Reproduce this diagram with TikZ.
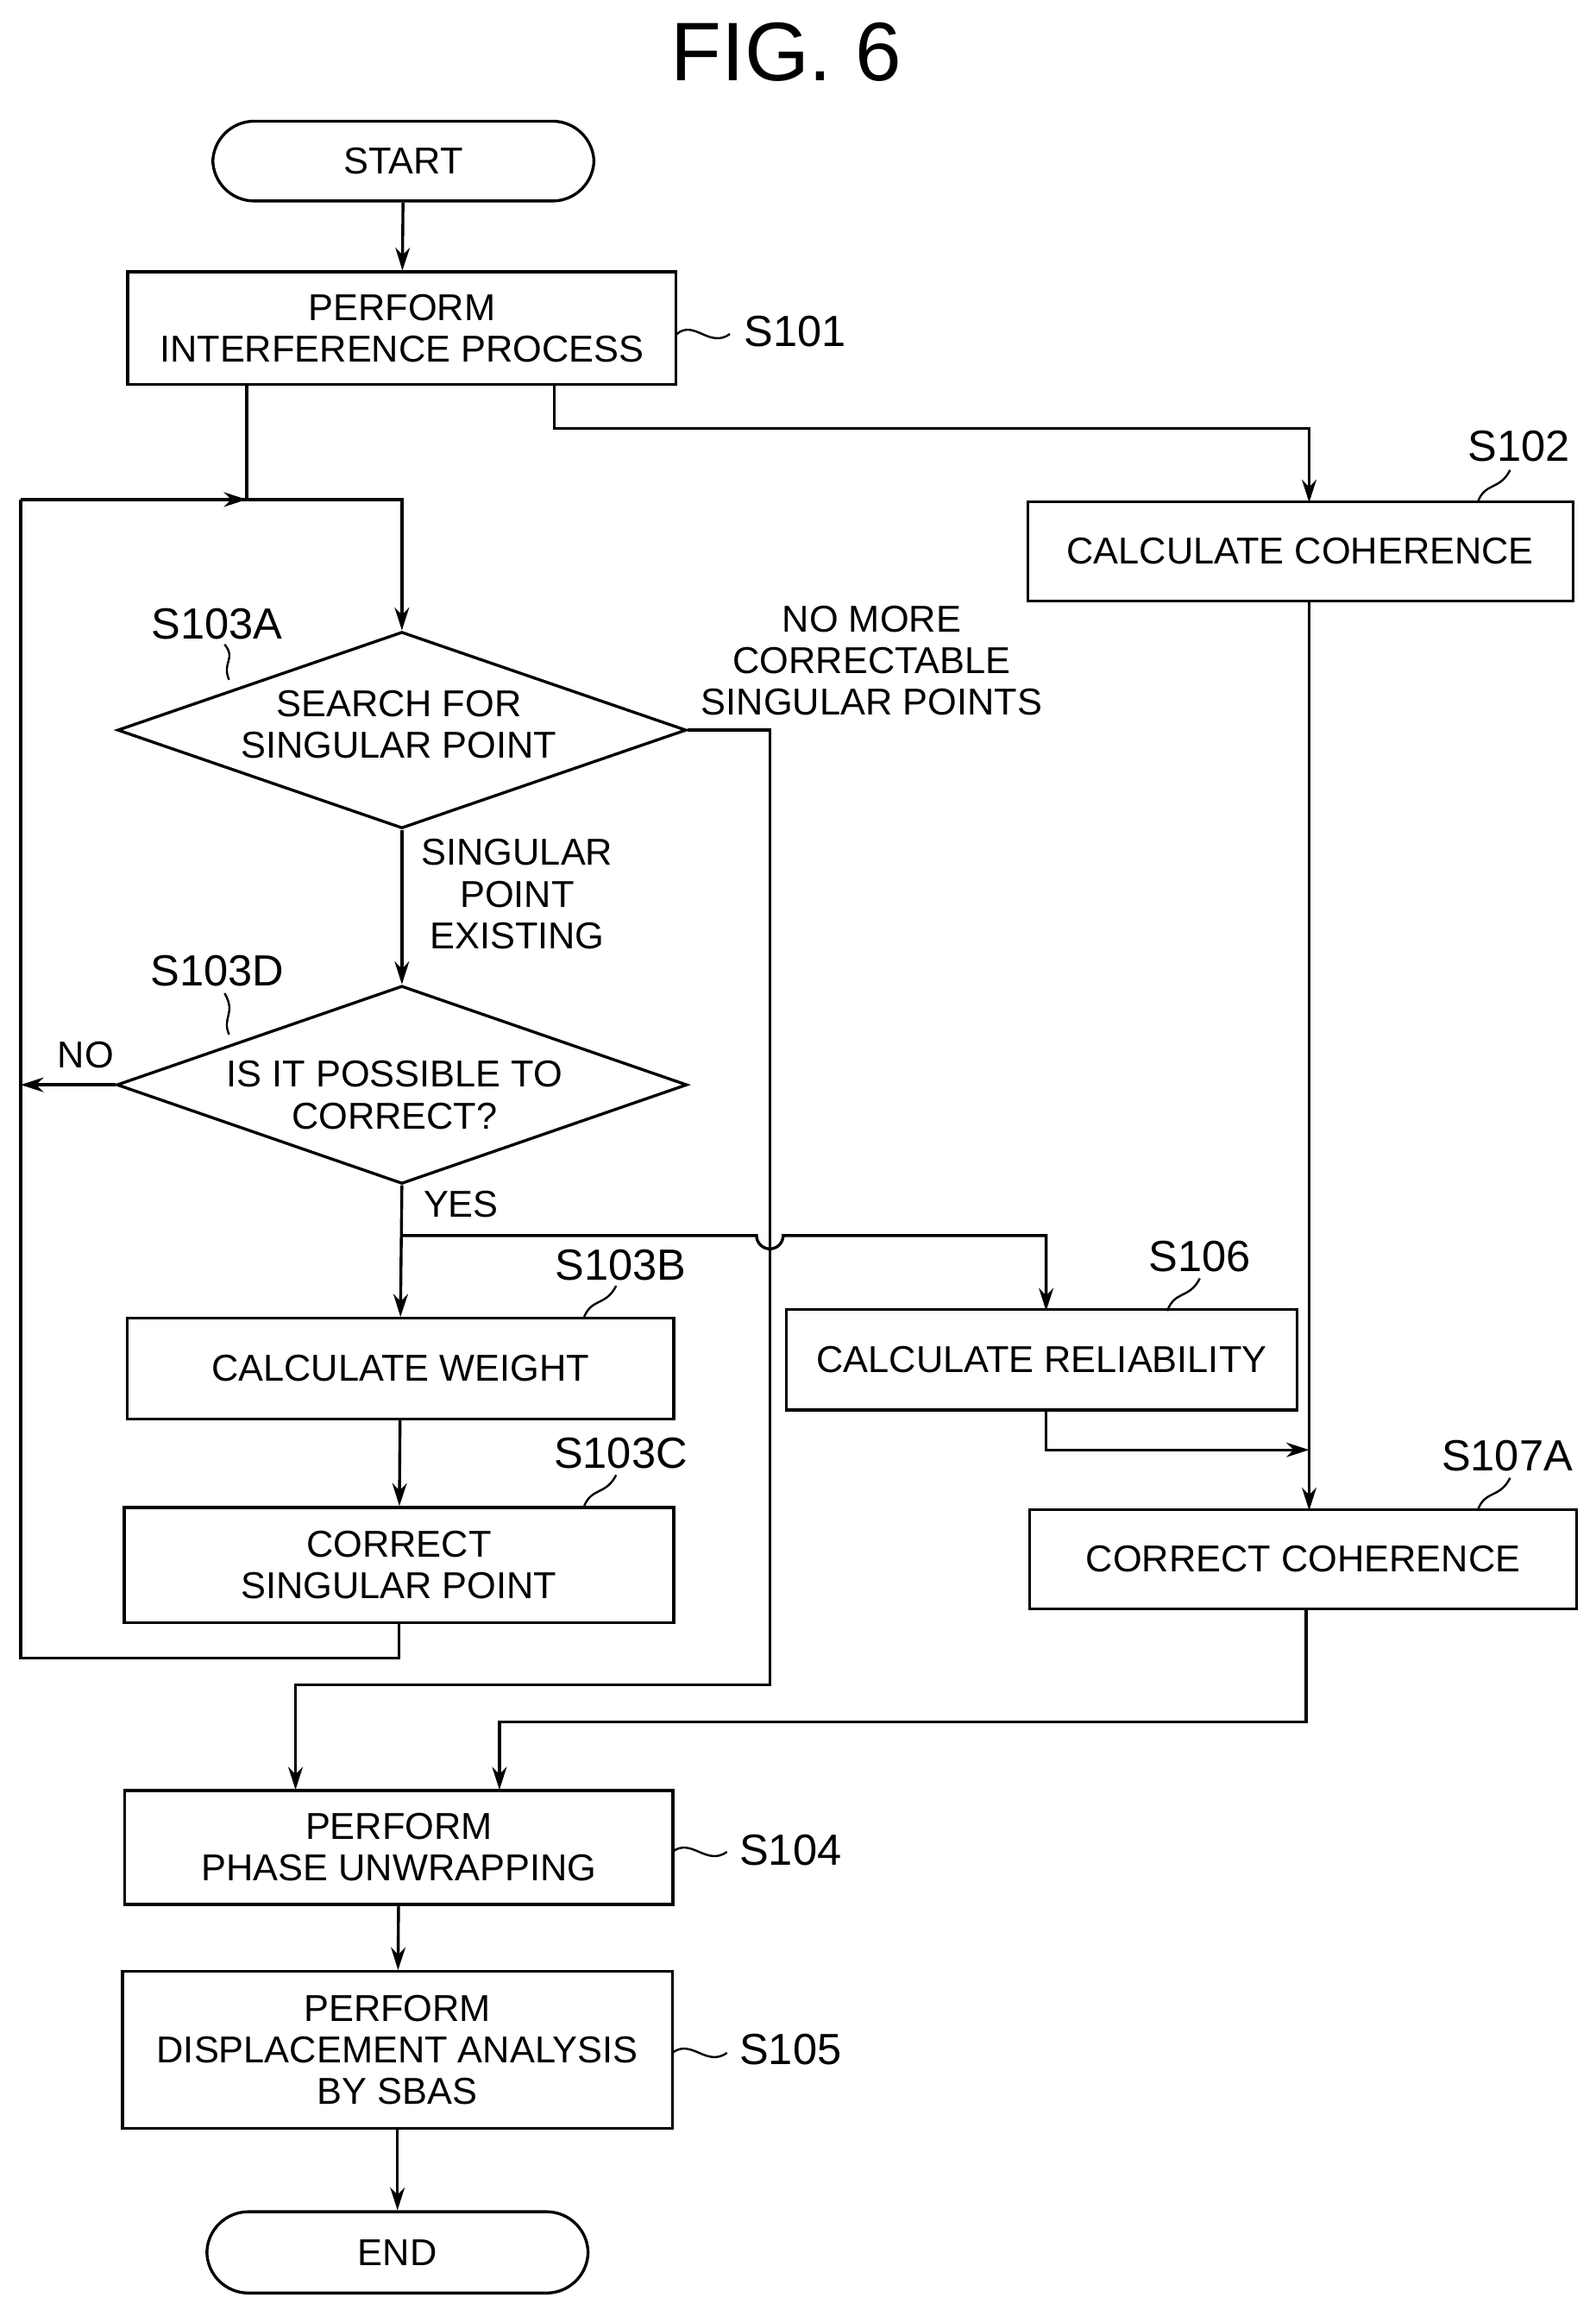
\documentclass[tikz,border=0pt]{standalone}
\usepackage{fontspec}
\setmainfont{Liberation Sans}
\usetikzlibrary{arrows.meta,shapes.geometric}
\begin{document}
\begin{tikzpicture}[x=0.025cm,y=-0.025cm,line width=1.4pt,
  box/.style={draw,rectangle,inner sep=0pt,align=center,font=\fontsize{18}{20}\selectfont},
  dia/.style={draw,diamond,inner sep=0pt,align=center,font=\fontsize{18}{20}\selectfont},
  lab/.style={font=\fontsize{21}{22}\selectfont},
  txt/.style={align=center,font=\fontsize{18}{20}\selectfont},
  arr/.style={-{Stealth[length=11pt,width=7pt]}}]
\useasboundingbox (0,0) rectangle (1080,1563);
\node[font=\fontsize{40}{44}\selectfont] (title) at (532,35) {FIG. 6};
\node[box,rounded corners=20pt,minimum width=258*0.025cm,minimum height=54*0.025cm] (start) at (273,109) {START};
\node[box,minimum width=371*0.025cm,minimum height=76*0.025cm] (s101) at (272,222) {PERFORM\\INTERFERENCE PROCESS};
\node[box,minimum width=369*0.025cm,minimum height=67*0.025cm] (s102) at (880,373) {CALCULATE COHERENCE};
\node[dia,minimum width=385*0.025cm,minimum height=133*0.025cm] (a) at (272,494) {};
\node[txt] at (270,490) {SEARCH FOR\\SINGULAR POINT};
\node[dia,minimum width=386*0.025cm,minimum height=134*0.025cm] (d) at (272,734) {};
\node[txt] at (267,741) {IS IT POSSIBLE TO\\CORRECT?};
\node[box,minimum width=370*0.025cm,minimum height=68*0.025cm] (b) at (271,926) {CALCULATE WEIGHT};
\node[box,minimum width=372*0.025cm,minimum height=78*0.025cm] (c) at (270,1059) {CORRECT\\SINGULAR POINT};
\node[box,minimum width=346*0.025cm,minimum height=68*0.025cm] (s106) at (705,920) {CALCULATE RELIABILITY};
\node[box,minimum width=370*0.025cm,minimum height=67*0.025cm] (s107) at (882,1055) {CORRECT COHERENCE};
\node[box,minimum width=371*0.025cm,minimum height=77*0.025cm] (s104) at (270,1250) {PERFORM\\PHASE UNWRAPPING};
\node[box,minimum width=372*0.025cm,minimum height=106*0.025cm] (s105) at (269,1387) {PERFORM\\DISPLACEMENT ANALYSIS\\BY SBAS};
\node[box,rounded corners=20pt,minimum width=258*0.025cm,minimum height=55*0.025cm] (end) at (269,1524) {END};
% labels
\node[lab] (l101) at (538,224) {S101};
\node[lab] (l102) at (1028,302) {S102};
\node[lab] (l3a) at (147,422) {S103A};
\node[lab] (l3d) at (147,657) {S103D};
\node[lab] (l3b) at (420,856) {S103B};
\node[lab] (l3c) at (420,983) {S103C};
\node[lab] (l106) at (812,850) {S106};
\node[lab] (l107) at (1020,985) {S107A};
\node[lab] (l104) at (535,1252) {S104};
\node[lab] (l105) at (535,1387) {S105};
\node[txt] (nomore) at (590,447) {NO MORE\\CORRECTABLE\\SINGULAR POINTS};
\node[txt] (sing) at (350,605) {SINGULAR\\POINT\\EXISTING};
\node[txt] (no) at (58,714) {NO};
\node[txt] (yes) at (312,815) {YES};
% leaders
\draw[line width=1pt] (458,226) .. controls (470,216) and (480,236) .. (494,226);
\draw[line width=1pt] (455,1253) .. controls (468,1243) and (478,1263) .. (492,1253);
\draw[line width=1pt] (455,1389) .. controls (468,1379) and (478,1399) .. (492,1389);
\draw[line width=1pt] (1000,340) .. controls (1005,326) and (1015,332) .. (1022,318);
\draw[line width=1pt] (395,892) .. controls (400,878) and (410,884) .. (417,870);
\draw[line width=1pt] (395,1020) .. controls (400,1006) and (410,1012) .. (417,998);
\draw[line width=1pt] (790,887) .. controls (795,873) and (805,879) .. (812,865);
\draw[line width=1pt] (1000,1022) .. controls (1005,1008) and (1015,1014) .. (1022,1000);
\draw[line width=1pt] (155,460) .. controls (150,448) and (160,446) .. (152,436);
\draw[line width=1pt] (155,700) .. controls (150,688) and (160,686) .. (152,672);
% connectors
\draw[arr] (start) -- (s101);
\draw (167,260) -- (167,338);
\draw[arr] (14,338) -- (167,338);
\draw[arr] (14,338) -- (272,338) -- (a.north);
\draw[arr] (375,260) -- (375,290) -- (886,290) -- (886,340);
\draw[arr] (a.south) -- (d.north);
\draw[arr] (a.east) -- (521,494) -- (521,1140) -- (200,1140) -- (200,1211);
\draw[arr] (d.west) -- (14,734);
\draw (14,338) -- (14,1122) -- (270,1122) -- (c.south);
\draw[arr] (d.south) -- (b.north);
\draw[arr] (272,836) -- (512,836) arc (180:0:9) -- (708,836) -- (708,887);
\draw[arr] (b) -- (c);
\draw[arr] (886,407) -- (886,1022);
\draw[arr] (708,955) -- (708,981) -- (886,981);
\draw[arr] (884,1089) -- (884,1165) -- (338,1165) -- (338,1211);
\draw[arr] (s104) -- (s105);
\draw[arr] (s105) -- (end);
\end{tikzpicture}
\end{document}
